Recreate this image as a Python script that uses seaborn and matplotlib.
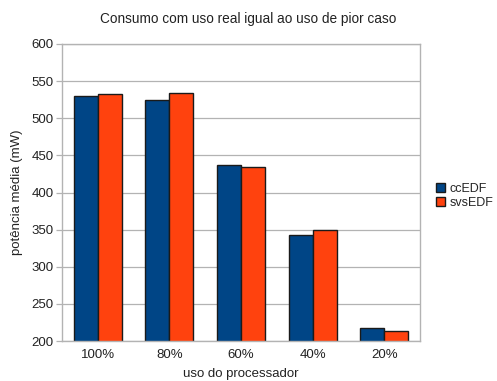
import matplotlib
matplotlib.use("Agg")
import matplotlib.pyplot as plt
import seaborn as sns
import pandas as pd
import numpy as np
from matplotlib.patches import Patch

categories = ["100%", "80%", "60%", "40%", "20%"]
ccedf = [530, 525, 437, 343, 217]
svsedf = [533, 534, 435, 350, 213]
series_names = ["ccEDF", "svsEDF"]
colors = ["#004586", "#ff420e"]

df = pd.DataFrame({
    "uso": categories * 2,
    "potencia": ccedf + svsedf,
    "serie": [series_names[0]] * len(categories) + [series_names[1]] * len(categories),
})

sns.set_style("white")
plt.rcParams["font.family"] = ["Liberation Sans", "DejaVu Sans"]

fs = 9.5
txt = "#222222"

fig = plt.figure(figsize=(4.97, 3.81), dpi=100)
ax = fig.add_axes([62 / 497, 40 / 381, 358 / 497, 297 / 381])

sns.barplot(data=df, x="uso", y="potencia", hue="serie", palette=colors,
            order=categories, hue_order=series_names, width=0.67,
            edgecolor="#1a1a1a", linewidth=1.0, saturation=1, legend=False, ax=ax)

ax.set_ylim(200, 600)
ax.set_xlim(-0.5, len(categories) - 0.5)
ax.set_yticks(np.arange(200, 601, 50))
ax.yaxis.grid(True, color="#b3b3b3", linewidth=0.9)
ax.set_axisbelow(True)

# category separators as tick marks below the axis
ax.set_xticks(np.arange(-0.5, len(categories), 1.0), minor=True)
ax.tick_params(axis="x", which="major", length=0, labelsize=fs, pad=6, colors=txt)
ax.tick_params(axis="x", which="minor", length=4, color="#b3b3b3", width=0.9, direction="out")
ax.tick_params(axis="y", length=4, color="#b3b3b3", width=0.9, direction="out",
               labelsize=fs, labelcolor=txt, left=True, pad=2)
for s in ax.spines.values():
    s.set_color("#b3b3b3")
    s.set_linewidth(1.0)

ax.set_xlabel("uso do processador", fontsize=fs, color=txt, labelpad=5)
ax.set_ylabel("potência média (mW)", fontsize=fs, color=txt, labelpad=6)
fig.text(0.5, 1 - 19 / 381, "Consumo com uso real igual ao uso de pior caso",
         ha="center", va="center", fontsize=9.8, color=txt)

handles = [Patch(facecolor=c, edgecolor="#1a1a1a", linewidth=1.0, label=n)
           for c, n in zip(colors, series_names)]
fig.legend(handles=handles, loc="center left", bbox_to_anchor=(436 / 497, 1 - 196 / 381),
           frameon=False, fontsize=9, handlelength=0.75, handleheight=0.75,
           handletextpad=0.35, labelspacing=0.2, borderaxespad=0, borderpad=0)

fig.savefig("out.png", dpi=100)
